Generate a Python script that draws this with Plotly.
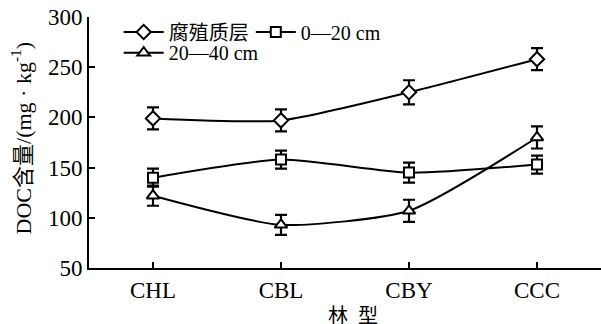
import plotly.graph_objects as go

categories = ["CHL", "CBL", "CBY", "CCC"]
humus = [199, 197, 225, 258]
humus_err = [11, 11, 12, 11]
d0_20 = [140, 158, 145, 153]
d0_20_err = [9, 9, 10, 9]
d20_40 = [122, 93, 107, 180]
d20_40_err = [10, 10, 11, 11]

font_fam = "Liberation Serif, Noto Sans CJK SC, serif"

fig = go.Figure()
series = [
    ("腐殖质层", humus, humus_err, "diamond", 11, "legend"),
    ("0—20 cm", d0_20, d0_20_err, "square", 10, "legend2"),
    ("20—40 cm", d20_40, d20_40_err, "triangle-up", 11, "legend3"),
]
for name, vals, err, sym, sz, lg in series:
    fig.add_trace(go.Scatter(
        x=categories, y=vals, name=name, mode="lines+markers", legend=lg,
        line=dict(color="black", width=2, shape="spline", smoothing=0.6),
        marker=dict(symbol=sym, size=sz, color="white", line=dict(color="black", width=2)),
        error_y=dict(type="data", array=err, visible=True, color="black", thickness=2.2, width=6),
    ))

legend_common = dict(xanchor="left", yanchor="middle", orientation="h",
                     font=dict(size=20), bgcolor="rgba(0,0,0,0)", itemwidth=40)

fig.update_layout(
    width=601, height=324,
    margin=dict(l=89, r=0, t=17, b=56),
    paper_bgcolor="white", plot_bgcolor="white",
    font=dict(family=font_fam, size=20, color="black"),
    showlegend=True,
    legend=dict(x=0.058, y=0.94, **legend_common),
    legend2=dict(x=0.316, y=0.94, **legend_common),
    legend3=dict(x=0.058, y=0.858, **legend_common),
    xaxis=dict(
        range=[-0.5, 3.5], showline=True, linecolor="black", linewidth=2,
        ticks="inside", ticklen=6, tickwidth=2, tickcolor="black",
        showgrid=False, zeroline=False, mirror=False, automargin=False,
        tickfont=dict(size=23),
    ),
    yaxis=dict(
        range=[50, 300], tickvals=[50, 100, 150, 200, 250, 300],
        showline=True, linecolor="black", linewidth=2,
        ticks="inside", ticklen=6, tickwidth=2, tickcolor="black",
        showgrid=False, zeroline=False, automargin=False,
        tickfont=dict(size=23),
    ),
    annotations=[
        dict(text="林  型", xref="paper", yref="paper", x=0.516, y=-0.19,
             xanchor="center", yanchor="middle", showarrow=False, font=dict(size=20)),
        dict(text="DOC含量/(mg · kg<sup>-1</sup>)", xref="paper", yref="paper",
             x=-0.131, y=0.516, xanchor="center", yanchor="middle", textangle=-90,
             showarrow=False, font=dict(size=22)),
    ],
)

fig.write_html("out.html", config={"displayModeBar": False},
               post_script="document.body.style.margin='0';document.body.style.padding='0';")
